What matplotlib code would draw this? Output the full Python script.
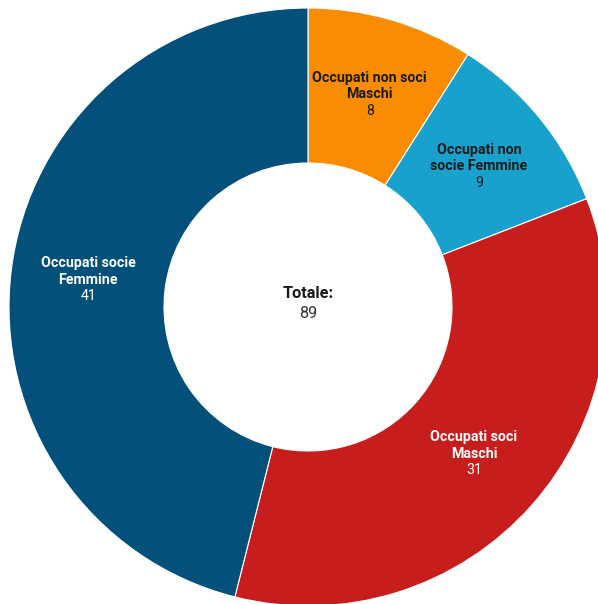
import numpy as np
import matplotlib.pyplot as plt

# Data
labels = ["Occupati non soci\nMaschi", "Occupati non\nsocie Femmine",
          "Occupati soci\nMaschi", "Occupati socie\nFemmine"]
values = [8, 9, 31, 41]
colors = ["#f98c00", "#18a1cd", "#c71e1d", "#03517a"]
text_colors = ["#1a1a1a", "#1a1a1a", "#ffffff", "#ffffff"]
total_label = "Totale:"

plt.rcParams['font.family'] = ['Roboto', 'DejaVu Sans']

W, H = 598, 604
fig = plt.figure(figsize=(W / 100, H / 100), dpi=100)
ax = fig.add_axes([0, 0, 1, 1])

cx, cy = 308, H - 307
r_out, r_in = 299, 144

wedges, _ = ax.pie(values, colors=colors, startangle=90, counterclock=False,
                   radius=r_out, center=(cx, cy), frame=True,
                   wedgeprops=dict(width=r_out - r_in, edgecolor='white', linewidth=0.8))
ax.set_xlim(0, W)
ax.set_ylim(0, H)
ax.set_aspect('equal')
ax.axis('off')

line_h = 16.5
r_lab = (r_out + r_in) / 2
for w, lab, v, tc in zip(wedges, labels, values, text_colors):
    ang = np.deg2rad((w.theta1 + w.theta2) / 2)
    x = cx + r_lab * np.cos(ang)
    y = cy + r_lab * np.sin(ang)
    lines = lab.split("\n")
    for i, ln in enumerate(lines):
        ax.text(x, y + line_h * (1 - i), ln, ha='center', va='center',
                fontsize=10.2, fontweight='bold', color=tc)
    ax.text(x, y - line_h, str(v), ha='center', va='center',
            fontsize=10.2, color=tc)

ax.text(cx, cy + 14, total_label, ha='center', va='center',
        fontsize=11.7, fontweight='bold', color='#1a1a1a')
ax.text(cx, cy - 7, str(sum(values)), ha='center', va='center',
        fontsize=11.7, color='#333333')

fig.savefig('out.png', dpi=100)
